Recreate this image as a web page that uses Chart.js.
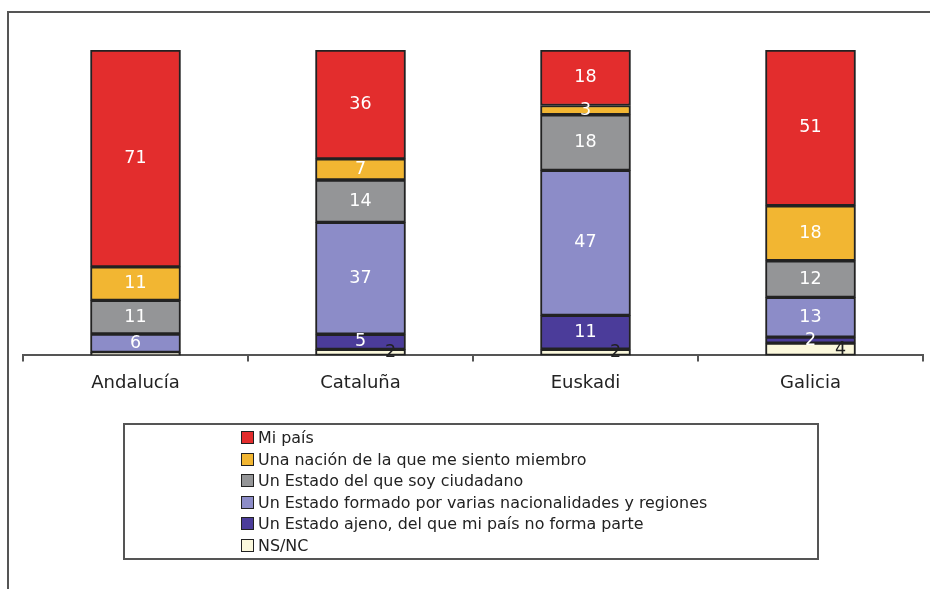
<!DOCTYPE html>
<html>
<head>
  <meta charset="utf-8">
  <title>Identidad nacional por comunidad</title>
  <script src="https://cdn.jsdelivr.net/npm/chart.js"></script>
  <style>
    body {
      margin: 0;
      background: #fff;
      font-family: 'DejaVu Sans', sans-serif;
    }
    .wrap {
      position: relative;
      width: 930px;
      height: 589px;
      overflow: hidden;
    }
    .frame {
      position: absolute;
      left: 7px;
      top: 11px;
      width: 1000px;
      height: 700px;
      border-top: 2px solid #555;
      border-left: 2px solid #555;
    }
    #chart {
      position: absolute;
      left: 0;
      top: 0;
    }
    .legend {
      position: absolute;
      left: 123px;
      top: 423px;
      width: 692px;
      height: 133px;
      border: 2px solid #555;
      box-sizing: content-box;
    }
    .legend ul {
      list-style: none;
      margin: 0;
      padding: 2px 0 0 116px;
    }
    .legend li {
      height: 21.6px;
      line-height: 21.6px;
      font-size: 15.9px;
      color: #222;
      white-space: nowrap;
    }
    .legend .box {
      display: inline-block;
      width: 11px;
      height: 11px;
      border: 1px solid #222;
      margin-right: 4px;
      vertical-align: -1px;
    }
  </style>
</head>
<body>
  <div class="wrap">
    <div class="frame"></div>
    <canvas id="chart" width="930" height="589"></canvas>
    <div class="legend"><ul id="legendList"></ul></div>
  </div>

  <script>
    const regions = ['Andalucía', 'Cataluña', 'Euskadi', 'Galicia'];

    // stacked bottom to top
    const seriesNames = [
      'NS/NC',
      'Un Estado ajeno, del que mi país no forma parte',
      'Un Estado formado por varias nacionalidades y regiones',
      'Un Estado del que soy ciudadano',
      'Una nación de la que me siento miembro',
      'Mi país'
    ];
    const nsnc      = [1, 2, 2, 4];
    const ajeno     = [0, 5, 11, 2];
    const formado   = [6, 37, 47, 13];
    const ciudadano = [11, 14, 18, 12];
    const nacion    = [11, 7, 3, 18];
    const miPais    = [71, 36, 18, 51];

    const colors = ['#FBF8DC', '#4B3C9A', '#8C8CC8', '#949597', '#F2B632', '#E32D2D'];
    const labelColors = ['#222', '#fff', '#fff', '#fff', '#fff', '#fff'];
    const labelShift = [30, 0, 0, 0, 0, 0];

    const rawSeries = [nsnc, ajeno, formado, ciudadano, nacion, miPais];

    // each bar is shown as 100%
    const totals = regions.map((r, i) => rawSeries.reduce((s, arr) => s + arr[i], 0));

    const datasets = rawSeries.map((arr, k) => ({
      label: seriesNames[k],
      raw: arr,
      data: arr.map((v, i) => v / totals[i] * 100),
      backgroundColor: colors[k],
      borderColor: '#222',
      borderWidth: 2,
      borderSkipped: false,
      barThickness: 90
    }));

    const valueLabels = {
      id: 'valueLabels',
      afterDatasetsDraw(chart) {
        const ctx = chart.ctx;
        ctx.save();
        ctx.font = '17.5px "DejaVu Sans"';
        ctx.textAlign = 'center';
        ctx.textBaseline = 'middle';
        chart.data.datasets.forEach((ds, k) => {
          const meta = chart.getDatasetMeta(k);
          meta.data.forEach((bar, i) => {
            const v = ds.raw[i];
            if (v < 2) return;
            ctx.fillStyle = labelColors[k];
            ctx.fillText(String(v), bar.x + labelShift[k], (bar.y + bar.base) / 2);
          });
        });
        ctx.restore();
      }
    };

    new Chart(document.getElementById('chart').getContext('2d'), {
      type: 'bar',
      data: { labels: regions, datasets: datasets },
      options: {
        responsive: false,
        animation: false,
        layout: { padding: { left: 23, right: 7, top: 50, bottom: 184 } },
        plugins: {
          legend: { display: false },
          tooltip: { enabled: false }
        },
        scales: {
          x: {
            stacked: true,
            grid: {
              display: true,
              drawOnChartArea: false,
              drawTicks: true,
              tickLength: 6,
              color: '#555',
              lineWidth: 2,
              offset: true
            },
            border: { display: true, color: '#555', width: 2 },
            ticks: {
              color: '#222',
              padding: 11,
              font: { family: 'DejaVu Sans', size: 18 }
            }
          },
          y: {
            stacked: true,
            display: false,
            min: 0,
            max: 100
          }
        }
      },
      plugins: [valueLabels]
    });

    // legend, top item first
    const list = document.getElementById('legendList');
    for (let k = seriesNames.length - 1; k >= 0; k--) {
      const li = document.createElement('li');
      const box = document.createElement('span');
      box.className = 'box';
      box.style.background = colors[k];
      li.appendChild(box);
      li.appendChild(document.createTextNode(seriesNames[k]));
      list.appendChild(li);
    }
  </script>
</body>
</html>
